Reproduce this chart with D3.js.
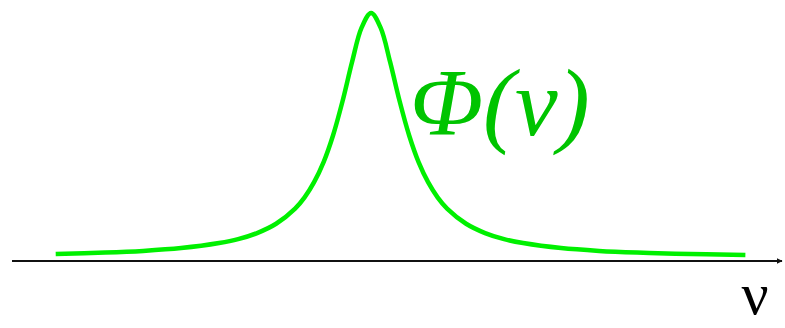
<!DOCTYPE html>
<html>
<head>
<meta charset="utf-8">
<script src="https://cdn.jsdelivr.net/npm/d3@7"></script>
<style>
  html, body { margin: 0; padding: 0; background: #fff; }
  svg { display: block; }
</style>
</head>
<body>
<script>
// Line profile Φ(ν): frequency offset (in half-widths) and normalised profile value
const nu  = [-8.3, -7, -6, -5, -4, -3.5, -3, -2.5, -2, -1.75, -1.5, -1.25, -1, -0.75, -0.5, -0.25, 0,
             0.25, 0.5, 0.75, 1, 1.25, 1.5, 1.75, 2, 2.5, 3, 3.5, 4, 5, 6, 7, 8, 9.85];
const phi = [0.0143, 0.020, 0.027, 0.0385, 0.059, 0.075, 0.10, 0.138, 0.20, 0.246, 0.308, 0.39, 0.50, 0.64, 0.80, 0.94, 1.0,
             0.94, 0.80, 0.64, 0.50, 0.39, 0.308, 0.246, 0.20, 0.138, 0.10, 0.075, 0.059, 0.0385, 0.027, 0.020, 0.0154, 0.0102];

const curveLabel = "Φ(ν)";
const axisLabel = "ν";

const width = 785, height = 328;

const svg = d3.select("body").append("svg")
  .attr("width", width)
  .attr("height", height);

const x = d3.scaleLinear().domain([-9.45, 10.84]).range([12, 783]);
const y = d3.scaleLinear().domain([0, 1]).range([257.5, 13]);

// frequency axis with a small arrowhead
const axisY = 261;
svg.append("defs").append("marker")
  .attr("id", "arrow")
  .attr("viewBox", "0 0 10 10")
  .attr("refX", 9).attr("refY", 5)
  .attr("markerWidth", 3).attr("markerHeight", 5)
  .attr("orient", "auto")
  .append("path")
  .attr("d", "M0,0 L10,5 L0,10 Z")
  .attr("fill", "#111");

svg.append("line")
  .attr("x1", x.range()[0]).attr("x2", x.range()[1] - 1)
  .attr("y1", axisY).attr("y2", axisY)
  .attr("stroke", "#111")
  .attr("stroke-width", 2)
  .attr("marker-end", "url(#arrow)");

// profile curve
const pts = nu.map((v, i) => [v, phi[i]]);
svg.append("path")
  .datum(pts)
  .attr("fill", "none")
  .attr("stroke", "#00f000")
  .attr("stroke-width", 4.5)
  .attr("stroke-linejoin", "round")
  .attr("d", d3.line().x(d => x(d[0])).y(d => y(d[1])).curve(d3.curveCatmullRom.alpha(0.5)));

// labels
svg.append("text")
  .attr("x", 410).attr("y", 135)
  .attr("font-family", "'Liberation Serif', 'DejaVu Serif', serif")
  .attr("font-style", "italic")
  .attr("font-size", 96)
  .attr("fill", "#00c400")
  .text(curveLabel);

svg.append("text")
  .attr("x", 755).attr("y", 314)
  .attr("text-anchor", "middle")
  .attr("font-family", "'Liberation Serif', 'DejaVu Serif', serif")
  .attr("font-size", 60)
  .attr("fill", "#000")
  .text(axisLabel);
</script>
</body>
</html>
